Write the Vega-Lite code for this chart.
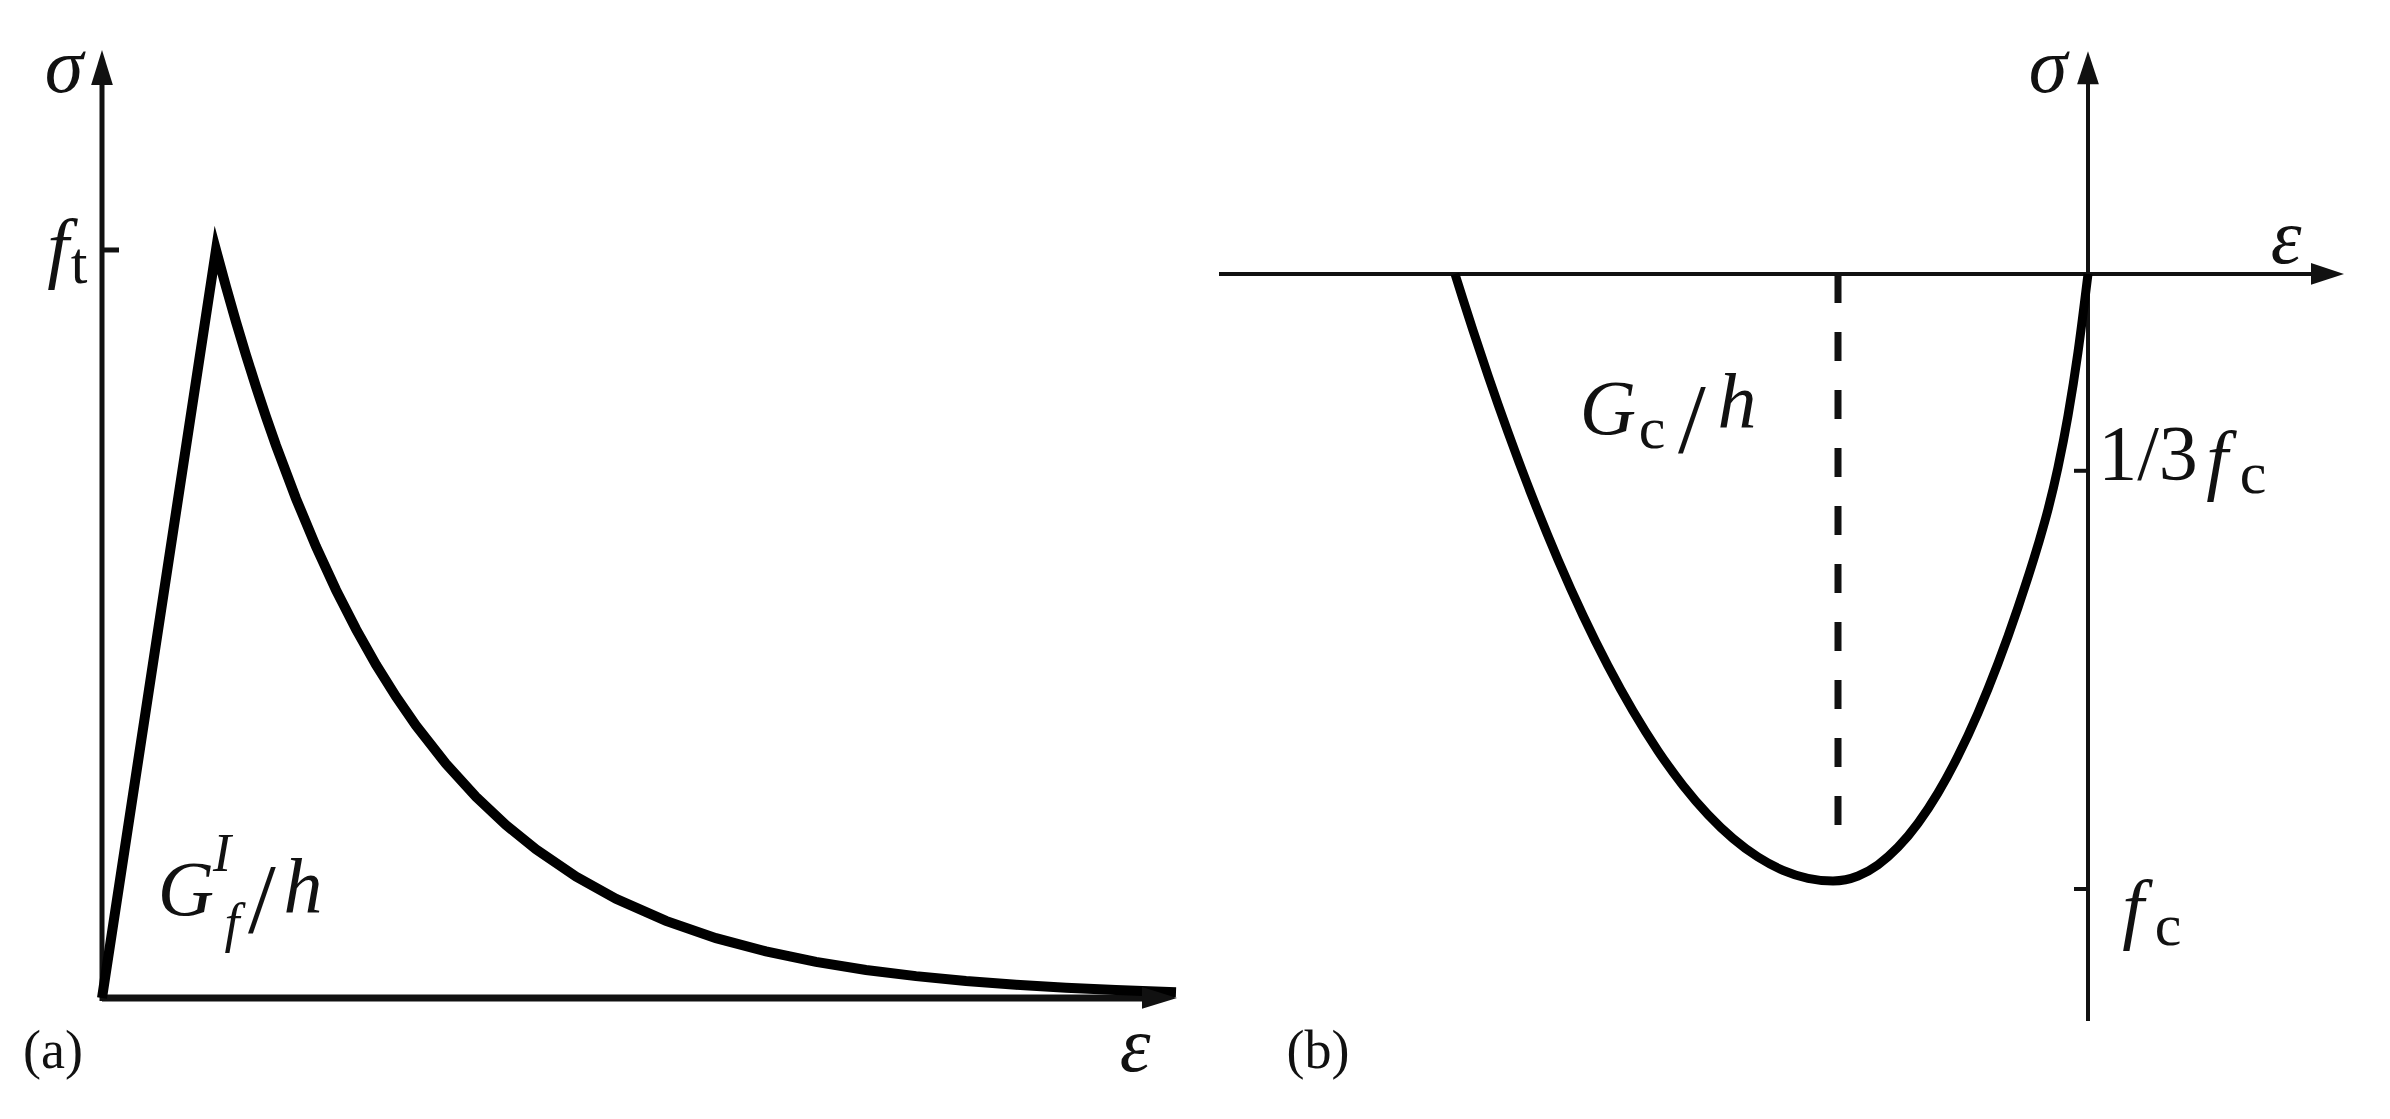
{
  "$schema": "https://vega.github.io/schema/vega-lite/v6.json",
  "width": 2390,
  "height": 1119,
  "autosize": {"type": "none"},
  "padding": 0,
  "background": "white",
  "config": {"view": {"stroke": null}, "text": {"font": "Liberation Serif", "color": "#111"}},
  "datasets": {
    "axesA": [
      {"part": "x", "e0": 0, "e1": 10.55, "s0": 0, "s1": 0},
      {"part": "y", "e0": 0, "e1": 0, "s0": -0.004, "s1": 1.23},
      {"part": "tick", "e0": 0, "e1": 0.17, "s0": 1, "s1": 1}
    ],
    "arrowsA": [
      {"axis": "ε", "e": 10.75, "s": 0},
      {"axis": "σ", "e": 0, "s": 1.2674}
    ],
    "curveA": [
      {"e": 0, "s": 0}, {"e": 1.14, "s": 1}, {"e": 1.24, "s": 0.9508}, {"e": 1.34, "s": 0.9039},
      {"e": 1.44, "s": 0.8594}, {"e": 1.54, "s": 0.8171}, {"e": 1.64, "s": 0.7768}, {"e": 1.74, "s": 0.7386},
      {"e": 1.94, "s": 0.6676}, {"e": 2.14, "s": 0.6035}, {"e": 2.34, "s": 0.5455}, {"e": 2.54, "s": 0.4931},
      {"e": 2.74, "s": 0.4457}, {"e": 2.94, "s": 0.4029}, {"e": 3.14, "s": 0.3642}, {"e": 3.44, "s": 0.313},
      {"e": 3.74, "s": 0.269}, {"e": 4.04, "s": 0.2312}, {"e": 4.34, "s": 0.1987}, {"e": 4.74, "s": 0.1623},
      {"e": 5.14, "s": 0.1326}, {"e": 5.64, "s": 0.103}, {"e": 6.14, "s": 0.08}, {"e": 6.64, "s": 0.0622},
      {"e": 7.14, "s": 0.0483}, {"e": 7.64, "s": 0.0375}, {"e": 8.14, "s": 0.0292}, {"e": 8.64, "s": 0.0226},
      {"e": 9.14, "s": 0.0176}, {"e": 9.64, "s": 0.0137}, {"e": 10.14, "s": 0.0106}, {"e": 10.74, "s": 0.0078}
    ],
    "textA": [
      {"t": "σ", "e": -0.38, "s": 1.242, "role": "var"},
      {"t": "f", "e": -0.44, "s": 1.0, "role": "var"},
      {"t": "t", "e": -0.23, "s": 0.98, "role": "sub"},
      {"t": "ε", "e": 10.33, "s": -0.0668, "role": "var"},
      {"t": "(a)", "e": -0.49, "s": -0.0722, "role": "panel"},
      {"t": "G", "e": 0.84, "s": 0.1417, "role": "var"},
      {"t": "I", "e": 1.2, "s": 0.191, "role": "idx"},
      {"t": "f", "e": 1.3, "s": 0.0976, "role": "idx"},
      {"t": "/", "e": 1.6, "s": 0.128, "role": "slash"},
      {"t": "h", "e": 2.01, "s": 0.1444, "role": "var"}
    ],
    "axesB": [
      {"e0": -8.69, "e1": 2.3, "s0": 0, "s1": 0},
      {"e0": 0, "e1": 0, "s0": -1.2146, "s1": 0.32},
      {"e0": -0.14, "e1": 0, "s0": -0.32, "s1": -0.32},
      {"e0": -0.14, "e1": 0, "s0": -1, "s1": -1}
    ],
    "arrowsB": [
      {"axis": "ε", "e": 2.56, "s": 0},
      {"axis": "σ", "e": 0, "s": 0.362}
    ],
    "dashB": [
      {"e0": -2.5, "e1": -2.5, "s0": 0, "s1": -0.924}
    ],
    "curveB": [
      {"e": -6.33, "s": 0}, {"e": -6.25, "s": -0.0414}, {"e": -6.15, "s": -0.0918}, {"e": -6.0, "s": -0.1648},
      {"e": -5.8, "s": -0.2574}, {"e": -5.55, "s": -0.3653}, {"e": -5.3, "s": -0.4646}, {"e": -5.05, "s": -0.5553},
      {"e": -4.8, "s": -0.6373}, {"e": -4.55, "s": -0.7107}, {"e": -4.3, "s": -0.7755}, {"e": -4.05, "s": -0.8316},
      {"e": -3.8, "s": -0.879}, {"e": -3.55, "s": -0.9179}, {"e": -3.3, "s": -0.9481}, {"e": -3.05, "s": -0.9697},
      {"e": -2.8, "s": -0.9827}, {"e": -2.55, "s": -0.987}, {"e": -2.3, "s": -0.9789}, {"e": -2.1, "s": -0.9607},
      {"e": -1.9, "s": -0.9321}, {"e": -1.7, "s": -0.8931}, {"e": -1.5, "s": -0.8437}, {"e": -1.3, "s": -0.7839},
      {"e": -1.1, "s": -0.7137}, {"e": -0.9, "s": -0.6332}, {"e": -0.7, "s": -0.5422}, {"e": -0.5, "s": -0.4408},
      {"e": -0.4, "s": -0.3833}, {"e": -0.3, "s": -0.3144}, {"e": -0.2, "s": -0.2304}, {"e": -0.1, "s": -0.1269},
      {"e": 0, "s": 0}
    ],
    "textB": [
      {"t": "σ", "e": -0.4, "s": 0.333, "role": "var"},
      {"t": "ε", "e": 1.98, "s": 0.0553, "role": "var"},
      {"t": "1/3", "e": 0.6, "s": -0.296, "role": "num"},
      {"t": "f", "e": 1.29, "s": -0.306, "role": "var"},
      {"t": "c", "e": 1.65, "s": -0.327, "role": "sub"},
      {"t": "f", "e": 0.45, "s": -1.036, "role": "var"},
      {"t": "c", "e": 0.8, "s": -1.062, "role": "sub"},
      {"t": "G", "e": -4.8, "s": -0.2228, "role": "var"},
      {"t": "c", "e": -4.36, "s": -0.2537, "role": "sub"},
      {"t": "/", "e": -3.96, "s": -0.24, "role": "slash"},
      {"t": "h", "e": -3.51, "s": -0.213, "role": "var"},
      {"t": "(b)", "e": -7.7, "s": -1.265, "role": "panel"}
    ]
  },
  "layer": [
    {
      "layer": [
        {
          "data": {"name": "axesA"},
          "transform": [{"filter": "datum.part == 'x'"}],
          "mark": {"type": "rule", "strokeWidth": 7, "color": "#111"},
          "encoding": {
            "x": {"field": "e0", "type": "quantitative", "scale": {"domain": [-1.02, 22.88], "nice": false, "zero": false}, "axis": null},
            "x2": {"field": "e1"},
            "y": {"field": "s0", "type": "quantitative", "scale": {"domain": [-0.1618, 1.3342], "nice": false, "zero": false}, "axis": null},
            "y2": {"field": "s1"}
          }
        },
        {
          "data": {"name": "axesA"},
          "transform": [{"filter": "datum.part != 'x'"}],
          "mark": {"type": "rule", "strokeWidth": 5, "color": "#111"},
          "encoding": {
            "x": {"field": "e0", "type": "quantitative", "scale": {"domain": [-1.02, 22.88], "nice": false, "zero": false}, "axis": null},
            "x2": {"field": "e1"},
            "y": {"field": "s0", "type": "quantitative", "scale": {"domain": [-0.1618, 1.3342], "nice": false, "zero": false}, "axis": null},
            "y2": {"field": "s1"}
          }
        },
        {
          "data": {"name": "curveA"},
          "mark": {"type": "line", "strokeWidth": 10, "color": "#000", "strokeJoin": "miter", "strokeMiterLimit": 10},
          "encoding": {
            "x": {"field": "e", "type": "quantitative", "scale": {"domain": [-1.02, 22.88], "nice": false, "zero": false}, "axis": null},
            "y": {"field": "s", "type": "quantitative", "scale": {"domain": [-0.1618, 1.3342], "nice": false, "zero": false}, "axis": null}
          }
        },
        {
          "data": {"name": "arrowsA"},
          "transform": [{"filter": "datum.axis == 'σ'"}],
          "mark": {"type": "point", "filled": true, "opacity": 1, "color": "#111", "size": 4900, "shape": "M0,0L-0.31,1L0.31,1Z"},
          "encoding": {
            "x": {"field": "e", "type": "quantitative", "scale": {"domain": [-1.02, 22.88], "nice": false, "zero": false}, "axis": null},
            "y": {"field": "s", "type": "quantitative", "scale": {"domain": [-0.1618, 1.3342], "nice": false, "zero": false}, "axis": null}
          }
        },
        {
          "data": {"name": "arrowsA"},
          "transform": [{"filter": "datum.axis == 'ε'"}],
          "mark": {"type": "point", "filled": true, "opacity": 1, "color": "#111", "size": 4900, "shape": "M0,0L-1,-0.31L-1,0.31Z"},
          "encoding": {
            "x": {"field": "e", "type": "quantitative", "scale": {"domain": [-1.02, 22.88], "nice": false, "zero": false}, "axis": null},
            "y": {"field": "s", "type": "quantitative", "scale": {"domain": [-0.1618, 1.3342], "nice": false, "zero": false}, "axis": null}
          }
        },
        {
          "data": {"name": "textA"},
          "transform": [{"filter": "datum.role == 'var'"}],
          "mark": {"type": "text", "fontSize": 78, "fontStyle": "italic", "align": "center", "baseline": "middle"},
          "encoding": {
            "x": {"field": "e", "type": "quantitative", "scale": {"domain": [-1.02, 22.88], "nice": false, "zero": false}, "axis": null},
            "y": {"field": "s", "type": "quantitative", "scale": {"domain": [-0.1618, 1.3342], "nice": false, "zero": false}, "axis": null},
            "text": {"field": "t"}
          }
        },
        {
          "data": {"name": "textA"},
          "transform": [{"filter": "datum.role == 'sub'"}],
          "mark": {"type": "text", "fontSize": 60, "align": "center", "baseline": "middle"},
          "encoding": {
            "x": {"field": "e", "type": "quantitative", "scale": {"domain": [-1.02, 22.88], "nice": false, "zero": false}, "axis": null},
            "y": {"field": "s", "type": "quantitative", "scale": {"domain": [-0.1618, 1.3342], "nice": false, "zero": false}, "axis": null},
            "text": {"field": "t"}
          }
        },
        {
          "data": {"name": "textA"},
          "transform": [{"filter": "datum.role == 'idx'"}],
          "mark": {"type": "text", "fontSize": 54, "fontStyle": "italic", "align": "center", "baseline": "middle"},
          "encoding": {
            "x": {"field": "e", "type": "quantitative", "scale": {"domain": [-1.02, 22.88], "nice": false, "zero": false}, "axis": null},
            "y": {"field": "s", "type": "quantitative", "scale": {"domain": [-0.1618, 1.3342], "nice": false, "zero": false}, "axis": null},
            "text": {"field": "t"}
          }
        },
        {
          "data": {"name": "textA"},
          "transform": [{"filter": "datum.role == 'slash'"}],
          "mark": {"type": "text", "fontSize": 100, "fontWeight": 300, "align": "center", "baseline": "middle"},
          "encoding": {
            "x": {"field": "e", "type": "quantitative", "scale": {"domain": [-1.02, 22.88], "nice": false, "zero": false}, "axis": null},
            "y": {"field": "s", "type": "quantitative", "scale": {"domain": [-0.1618, 1.3342], "nice": false, "zero": false}, "axis": null},
            "text": {"field": "t"}
          }
        },
        {
          "data": {"name": "textA"},
          "transform": [{"filter": "datum.role == 'panel'"}],
          "mark": {"type": "text", "fontSize": 54, "align": "center", "baseline": "middle"},
          "encoding": {
            "x": {"field": "e", "type": "quantitative", "scale": {"domain": [-1.02, 22.88], "nice": false, "zero": false}, "axis": null},
            "y": {"field": "s", "type": "quantitative", "scale": {"domain": [-0.1618, 1.3342], "nice": false, "zero": false}, "axis": null},
            "text": {"field": "t"}
          }
        }
      ]
    },
    {
      "layer": [
        {
          "data": {"name": "axesB"},
          "mark": {"type": "rule", "strokeWidth": 4, "color": "#111"},
          "encoding": {
            "x": {"field": "e0", "type": "quantitative", "scale": {"domain": [-20.88, 3.02], "nice": false, "zero": false}, "axis": null},
            "x2": {"field": "e1"},
            "y": {"field": "s0", "type": "quantitative", "scale": {"domain": [-1.374, 0.4455], "nice": false, "zero": false}, "axis": null},
            "y2": {"field": "s1"}
          }
        },
        {
          "data": {"name": "dashB"},
          "mark": {"type": "rule", "strokeWidth": 7, "color": "#111", "strokeDash": [29, 29]},
          "encoding": {
            "x": {"field": "e0", "type": "quantitative", "scale": {"domain": [-20.88, 3.02], "nice": false, "zero": false}, "axis": null},
            "x2": {"field": "e1"},
            "y": {"field": "s0", "type": "quantitative", "scale": {"domain": [-1.374, 0.4455], "nice": false, "zero": false}, "axis": null},
            "y2": {"field": "s1"}
          }
        },
        {
          "data": {"name": "curveB"},
          "mark": {"type": "line", "strokeWidth": 9, "color": "#000", "interpolate": "monotone"},
          "encoding": {
            "x": {"field": "e", "type": "quantitative", "scale": {"domain": [-20.88, 3.02], "nice": false, "zero": false}, "axis": null},
            "y": {"field": "s", "type": "quantitative", "scale": {"domain": [-1.374, 0.4455], "nice": false, "zero": false}, "axis": null}
          }
        },
        {
          "data": {"name": "arrowsB"},
          "transform": [{"filter": "datum.axis == 'σ'"}],
          "mark": {"type": "point", "filled": true, "opacity": 1, "color": "#111", "size": 4356, "shape": "M0,0L-0.33,1L0.33,1Z"},
          "encoding": {
            "x": {"field": "e", "type": "quantitative", "scale": {"domain": [-20.88, 3.02], "nice": false, "zero": false}, "axis": null},
            "y": {"field": "s", "type": "quantitative", "scale": {"domain": [-1.374, 0.4455], "nice": false, "zero": false}, "axis": null}
          }
        },
        {
          "data": {"name": "arrowsB"},
          "transform": [{"filter": "datum.axis == 'ε'"}],
          "mark": {"type": "point", "filled": true, "opacity": 1, "color": "#111", "size": 4356, "shape": "M0,0L-1,-0.33L-1,0.33Z"},
          "encoding": {
            "x": {"field": "e", "type": "quantitative", "scale": {"domain": [-20.88, 3.02], "nice": false, "zero": false}, "axis": null},
            "y": {"field": "s", "type": "quantitative", "scale": {"domain": [-1.374, 0.4455], "nice": false, "zero": false}, "axis": null}
          }
        },
        {
          "data": {"name": "textB"},
          "transform": [{"filter": "datum.role == 'var'"}],
          "mark": {"type": "text", "fontSize": 78, "fontStyle": "italic", "align": "center", "baseline": "middle"},
          "encoding": {
            "x": {"field": "e", "type": "quantitative", "scale": {"domain": [-20.88, 3.02], "nice": false, "zero": false}, "axis": null},
            "y": {"field": "s", "type": "quantitative", "scale": {"domain": [-1.374, 0.4455], "nice": false, "zero": false}, "axis": null},
            "text": {"field": "t"}
          }
        },
        {
          "data": {"name": "textB"},
          "transform": [{"filter": "datum.role == 'sub'"}],
          "mark": {"type": "text", "fontSize": 60, "align": "center", "baseline": "middle"},
          "encoding": {
            "x": {"field": "e", "type": "quantitative", "scale": {"domain": [-20.88, 3.02], "nice": false, "zero": false}, "axis": null},
            "y": {"field": "s", "type": "quantitative", "scale": {"domain": [-1.374, 0.4455], "nice": false, "zero": false}, "axis": null},
            "text": {"field": "t"}
          }
        },
        {
          "data": {"name": "textB"},
          "transform": [{"filter": "datum.role == 'num'"}],
          "mark": {"type": "text", "fontSize": 78, "align": "center", "baseline": "middle"},
          "encoding": {
            "x": {"field": "e", "type": "quantitative", "scale": {"domain": [-20.88, 3.02], "nice": false, "zero": false}, "axis": null},
            "y": {"field": "s", "type": "quantitative", "scale": {"domain": [-1.374, 0.4455], "nice": false, "zero": false}, "axis": null},
            "text": {"field": "t"}
          }
        },
        {
          "data": {"name": "textB"},
          "transform": [{"filter": "datum.role == 'slash'"}],
          "mark": {"type": "text", "fontSize": 100, "fontWeight": 300, "align": "center", "baseline": "middle"},
          "encoding": {
            "x": {"field": "e", "type": "quantitative", "scale": {"domain": [-20.88, 3.02], "nice": false, "zero": false}, "axis": null},
            "y": {"field": "s", "type": "quantitative", "scale": {"domain": [-1.374, 0.4455], "nice": false, "zero": false}, "axis": null},
            "text": {"field": "t"}
          }
        },
        {
          "data": {"name": "textB"},
          "transform": [{"filter": "datum.role == 'panel'"}],
          "mark": {"type": "text", "fontSize": 54, "align": "center", "baseline": "middle"},
          "encoding": {
            "x": {"field": "e", "type": "quantitative", "scale": {"domain": [-20.88, 3.02], "nice": false, "zero": false}, "axis": null},
            "y": {"field": "s", "type": "quantitative", "scale": {"domain": [-1.374, 0.4455], "nice": false, "zero": false}, "axis": null},
            "text": {"field": "t"}
          }
        }
      ]
    }
  ],
  "resolve": {"scale": {"x": "independent", "y": "independent"}}
}
